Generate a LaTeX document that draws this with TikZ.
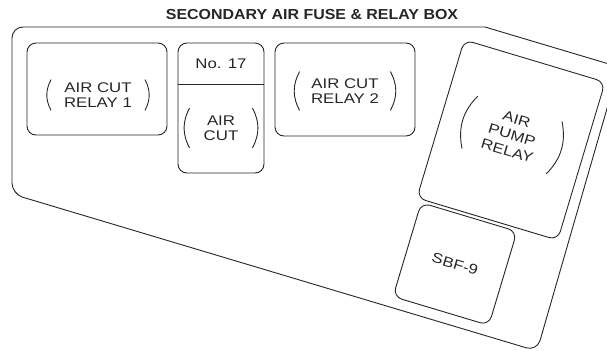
\documentclass[tikz,border=0pt]{standalone}
\usepackage{fontspec}
\newfontfamily\labelfont[FakeStretch=1.2]{Liberation Sans}
\newfontfamily\titlefont[FakeStretch=1.1]{Liberation Sans}
\definecolor{ink}{HTML}{262626}
\newcommand{\parens}[1]{\draw (#1.north west) to[bend right=28] (#1.south west);\draw (#1.north east) to[bend left=28] (#1.south east);}

\begin{document}
\begin{tikzpicture}[x=1bp,y=-1bp,line width=0.9bp,color=ink,
  box/.style={draw,rounded corners=9bp,inner sep=0pt},
  boxtext/.style={inner sep=0pt,align=center,font=\labelfont\fontsize{14bp}{15bp}\selectfont}]
\useasboundingbox (0,0) rectangle (607,350);
\node[font=\titlefont\bfseries\fontsize{14.5bp}{16bp}\selectfont] (title) at (312,15) {SECONDARY AIR FUSE \& RELAY BOX};
\draw[rounded corners=11bp] (485,27) -- (12,27) -- (12,194) -- (537,351) -- (619,67) -- (485,27);
% relays and fuse along the top
\node[box,minimum width=140bp,minimum height=92bp] (relay1) at (97,89) {};
\node[boxtext,minimum width=93bp,minimum height=30bp] (relay1txt) at (98,95) {AIR CUT\\RELAY 1};\parens{relay1txt}
\node[box,minimum width=86bp,minimum height=130bp] (fuse) at (221,108) {};
\node[boxtext,minimum width=86bp,minimum height=41bp] (fusenum) at (221,63.5) {No. 17};
\draw (fusenum.south west) -- (fusenum.south east);
\node[boxtext,minimum width=62bp,minimum height=39bp] (fusetxt) at (221,128) {AIR\\CUT};\parens{fusetxt}
\node[box,minimum width=140bp,minimum height=93bp] (relay2) at (345,89.5) {};
\node[boxtext,minimum width=90bp,minimum height=38bp] (relay2txt) at (345,91) {AIR CUT\\RELAY 2};\parens{relay2txt}
% tilted part
\node[box,rotate=-16.7,minimum width=147bp,minimum height=165bp] (pump) at (511,140) {};
\node[boxtext,rotate=-16.7,minimum width=87bp,minimum height=54bp,font=\labelfont\fontsize{14bp}{16.5bp}\selectfont] (pumptxt) at (512,135) {AIR\\PUMP\\RELAY};\parens{pumptxt}
\node[box,boxtext,rotate=-16.7,minimum width=100bp,minimum height=98bp] (sbf) at (455,264) {SBF-9};
\end{tikzpicture}
\end{document}
